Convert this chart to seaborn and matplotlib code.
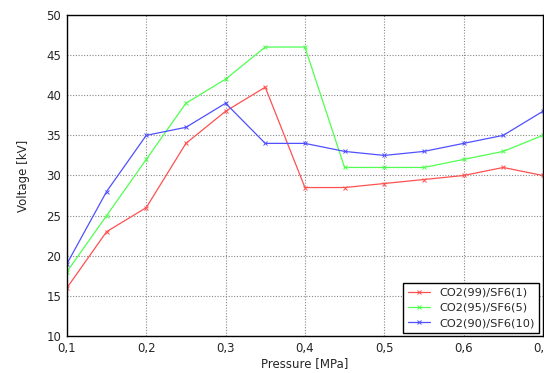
import matplotlib
matplotlib.use("Agg")
import matplotlib.pyplot as plt
import seaborn as sns
import pandas as pd
from matplotlib.ticker import FuncFormatter

pressure = [0.1, 0.15, 0.2, 0.25, 0.3, 0.35, 0.4, 0.45, 0.5, 0.55, 0.6, 0.65, 0.7]
co2_99 = [16, 23, 26, 34, 38, 41, 28.5, 28.5, 29, 29.5, 30, 31, 30]
co2_95 = [18, 25, 32, 39, 42, 46, 46, 31, 31, 31, 32, 33, 35]
co2_90 = [19, 28, 35, 36, 39, 34, 34, 33, 32.5, 33, 34, 35, 38]
labels = ["CO2(99)/SF6(1)", "CO2(95)/SF6(5)", "CO2(90)/SF6(10)"]
colors = ["#ff5050", "#50ff50", "#5050ff"]

rows = []
for lab, vals in zip(labels, [co2_99, co2_95, co2_90]):
    for p, v in zip(pressure, vals):
        rows.append({"Pressure": p, "Voltage": v, "Mix": lab})
df = pd.DataFrame(rows)

sns.set_style("white")
plt.rcParams['font.family'] = ['DejaVu Sans']

fig = plt.figure(figsize=(5.44, 3.73), dpi=100)
ax = fig.add_axes([0.123, 0.099, 0.875, 0.861])
sns.lineplot(data=df, x="Pressure", y="Voltage", hue="Mix", palette=colors,
             marker="x", markersize=2.5, markeredgewidth=0.7, linewidth=0.9,
             ax=ax, legend=True)
for ln in ax.lines:
    ln.set_markeredgecolor(ln.get_color())

ax.set_xlim(0.1, 0.7)
ax.set_ylim(10, 50)
ax.set_xticks([0.1, 0.2, 0.3, 0.4, 0.5, 0.6, 0.7])
ax.set_yticks(range(10, 51, 5))
ax.xaxis.set_major_formatter(FuncFormatter(lambda v, p: f"{v:.1f}".replace(".", ",")))
ax.grid(True, linestyle=(0, (1, 1.5)), color="#888888", linewidth=0.8)
for s in ax.spines.values():
    s.set_color("black")
    s.set_linewidth(1.0)
ax.tick_params(labelsize=8.5, length=0, pad=4)
ax.set_xlabel("Pressure [MPa]", fontsize=8.5, labelpad=2)
ax.set_ylabel("Voltage [kV]", fontsize=8.5, labelpad=12)

leg = ax.legend(loc="lower right", fontsize=8.2, frameon=True, fancybox=False,
                framealpha=1, edgecolor="black", borderaxespad=0.3,
                handlelength=2.0, labelspacing=0.45)
leg.get_frame().set_linewidth(1.0)
for h in leg.get_lines():
    h.set_markeredgecolor(h.get_color())

fig.savefig("out.png", dpi=100)
